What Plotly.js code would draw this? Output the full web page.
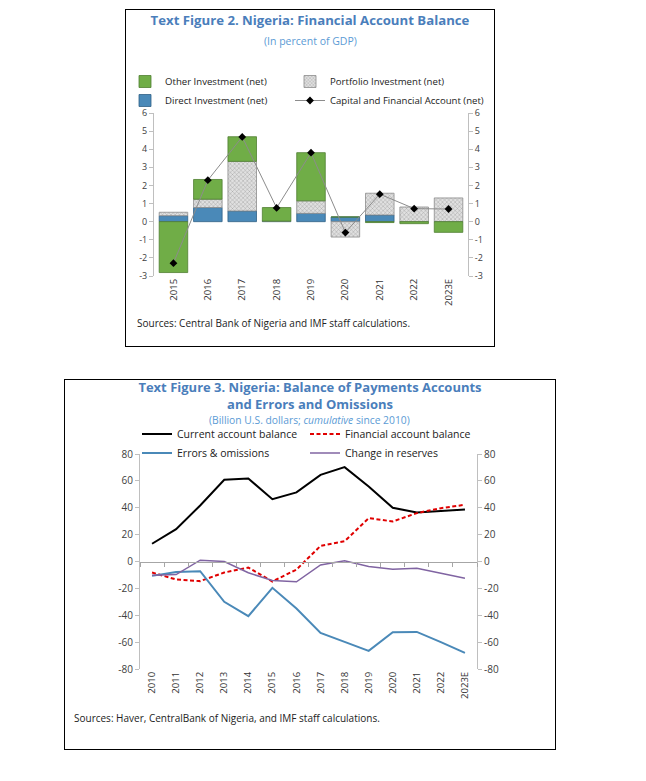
<!DOCTYPE html>
<html><head><meta charset="utf-8">
<script src="https://cdn.plot.ly/plotly-3.0.1.min.js"></script>
<style>
body{margin:0;background:#fff;width:646px;height:781px;position:relative;overflow:hidden}
#fig2{position:absolute;left:125px;top:9px;width:370px;height:338px;outline:1.6px solid #000;outline-offset:-1.6px}
#fig3{position:absolute;left:64px;top:379px;width:492px;height:371px;outline:1.6px solid #000;outline-offset:-1.6px}
</style></head><body>
<div id="fig2"></div><div id="fig3"></div>
<script>
// ---------- Figure 2 data (percent of GDP) ----------
const years2 = ['2015','2016','2017','2018','2019','2020','2021','2022','2023E'];
const directInv    = [0.33, 0.78, 0.59, 0.03, 0.46, 0.26, 0.37, 0.00, 0.00];
const portfolioInv = [0.19, 0.46, 2.74, 0.00, 0.69, -0.85, 1.20, 0.81, 1.31];
const otherInv     = [-2.81, 1.09, 1.36, 0.75, 2.66, 0.00, -0.05, -0.11, -0.59];
const capFinAcct   = [-2.29, 2.29, 4.68, 0.76, 3.81, -0.60, 1.52, 0.72, 0.70];
const yTicks2 = [-3,-2,-1,0,1,2,3,4,5,6];

// ---------- Figure 3 data (billion USD, cumulative since 2010) ----------
const years3 = ['2010','2011','2012','2013','2014','2015','2016','2017','2018','2019','2020','2021','2022','2023E'];
const currentAcct     = [13.2, 24.1, 41.7, 60.8, 61.8, 46.4, 51.4, 64.5, 70.2, 55.8, 40.0, 36.5, 37.5, 38.7];
const financialAcct   = [-8.2, -13.4, -14.6, -8.2, -4.5, -14.9, -6.0, 11.6, 15.1, 32.3, 29.8, 36.0, 39.7, 42.2];
const errorsOmissions = [-10.7, -7.9, -7.2, -30.0, -40.7, -19.6, -35.0, -53.1, -59.8, -66.5, -52.6, -52.4, -60.0, -68.0];
const changeReserves  = [-10.2, -9.7, 1.0, 0.0, -8.4, -14.1, -15.1, -2.6, 0.6, -3.7, -5.8, -5.1, -8.7, -12.4];
const yTicks3 = [-80,-60,-40,-20,0,20,40,60,80];

const FONT = 'Open Sans, Noto Sans, sans-serif';
const TITLE_BLUE = '#4a7ebb';
const SUB_BLUE = '#5b9bd5';
const AXIS_GRAY = '#bfbfbf';

// ---------- Figure 2 ----------
const fig2Traces = [
  {type:'bar', name:'Direct Investment (net)', x:years2, y:directInv, legend:'legend', legendrank:2,
   marker:{color:'#4a89b8', line:{color:'#2f5f85', width:0.8}}, hoverinfo:'skip'},
  {type:'bar', name:'Portfolio Investment (net)', x:years2, y:portfolioInv, legend:'legend2', legendrank:1,
   marker:{color:'#d9d9d9', line:{color:'#8c8c8c', width:0.8},
           pattern:{shape:'x', size:3, solidity:0.25, fgcolor:'#9a9a9a', bgcolor:'#e0e0e0'}}, hoverinfo:'skip'},
  {type:'bar', name:'Other Investment (net)', x:years2, y:otherInv, legend:'legend', legendrank:1,
   marker:{color:'#70ad47', line:{color:'#4f7f31', width:0.8}}, hoverinfo:'skip'},
  {type:'scatter', mode:'lines+markers', name:'Capital and Financial Account (net)', x:years2, y:capFinAcct,
   legend:'legend2', legendrank:2,
   line:{color:'#8c8c8c', width:1}, marker:{symbol:'diamond', size:6, color:'#000'}, hoverinfo:'skip'},
  {type:'scatter', mode:'none', x:years2, y:capFinAcct, yaxis:'y2', showlegend:false, hoverinfo:'skip'}
];
const yAx2 = {range:[-3,6], tickvals:yTicks2, ticktext:yTicks2.map(String), showgrid:false, zeroline:false, showline:true,
  linecolor:AXIS_GRAY, linewidth:1, ticks:'outside', ticklen:4, tickcolor:AXIS_GRAY,
  tickfont:{size:9, color:'#404040'}, fixedrange:true};
const legFont2 = {size:9.6, color:'#222'};
const fig2Layout = {
  width:370, height:338,
  margin:{l:29, r:27, t:104, b:71, pad:0, autoexpand:false},
  paper_bgcolor:'rgba(0,0,0,0)', plot_bgcolor:'rgba(0,0,0,0)',
  font:{family:FONT, size:9, color:'#404040'},
  title:{text:'Text Figure 2. Nigeria: Financial Account Balance', font:{size:13.2, color:TITLE_BLUE, weight:'bold'},
         x:0.5, xref:'container', xanchor:'center', y:1-11/338, yref:'container', yanchor:'middle'},
  barmode:'relative', bargap:0.17,
  xaxis:{type:'category', showline:false, ticks:'', tickangle:-90, showgrid:false, zeroline:false,
         tickfont:{size:9.5, color:'#333'}, fixedrange:true},
  yaxis:yAx2,
  yaxis2:Object.assign({}, yAx2, {overlaying:'y', side:'right'}),
  legend:{orientation:'v', xref:'container', yref:'container', x:0, y:1-58/338, xanchor:'left', yanchor:'top',
          font:legFont2, bgcolor:'rgba(0,0,0,0)', traceorder:'normal'},
  legend2:{orientation:'v', xref:'container', yref:'container', x:165/370, y:1-58/338, xanchor:'left', yanchor:'top',
          font:legFont2, bgcolor:'rgba(0,0,0,0)', traceorder:'normal'},
  annotations:[
    {text:'(In percent of GDP)', xref:'paper', yref:'paper', x:0.497, y:(267-33)/162.5, xanchor:'center', yanchor:'middle',
     showarrow:false, font:{size:10.5, color:SUB_BLUE}},
    {text:'Sources: Central Bank of Nigeria and IMF staff calculations.', xref:'paper', yref:'paper',
     x:(10-29)/314, y:(267-314)/162.5, xanchor:'left', yanchor:'middle', showarrow:false, font:{size:10, color:'#222'}}
  ]
};
Plotly.newPlot('fig2', fig2Traces, fig2Layout, {staticPlot:true});

// ---------- Figure 3 ----------
const fig3Traces = [
  {type:'scatter', mode:'lines', name:'Current account balance', x:years3, y:currentAcct,
   line:{color:'#000', width:2}, hoverinfo:'skip'},
  {type:'scatter', mode:'lines', name:'Financial account balance', x:years3, y:financialAcct,
   line:{color:'#e00000', width:2, dash:'4px,2.5px'}, hoverinfo:'skip'},
  {type:'scatter', mode:'lines', name:'Errors & omissions', x:years3, y:errorsOmissions,
   line:{color:'#4a89b8', width:2}, hoverinfo:'skip'},
  {type:'scatter', mode:'lines', name:'Change in reserves', x:years3, y:changeReserves,
   line:{color:'#8064a2', width:1.5}, hoverinfo:'skip'},
  {type:'scatter', mode:'none', x:years3.map((_, i) => i), y:changeReserves, xaxis:'x2', yaxis:'y2', showlegend:false, hoverinfo:'skip'}
];
const yAx3 = {range:[-80,80], tickvals:yTicks3, ticktext:yTicks3.map(String), showgrid:false, zeroline:false, showline:true,
  linecolor:AXIS_GRAY, linewidth:1, ticks:'outside', ticklen:4, tickcolor:AXIS_GRAY,
  tickfont:{size:10, color:'#404040'}, fixedrange:true};
const fig3Layout = {
  width:492, height:371,
  margin:{l:76, r:79, t:75, b:81, pad:0, autoexpand:false},
  paper_bgcolor:'rgba(0,0,0,0)', plot_bgcolor:'rgba(0,0,0,0)',
  font:{family:FONT, size:10, color:'#404040'},
  title:{text:'Text Figure 3. Nigeria: Balance of Payments Accounts<br>and Errors and Omissions',
         font:{size:13, color:TITLE_BLUE, weight:'bold'},
         x:0.5, xref:'container', xanchor:'center', y:1-13/371, yref:'container', yanchor:'middle'},
  xaxis:{type:'category', range:[-0.5, 13.5], showline:false, ticks:'', tickangle:-90, showgrid:false, zeroline:false,
         tickfont:{size:9.5, color:'#333'}, fixedrange:true},
  xaxis2:{overlaying:'x', anchor:'free', position:0.5, side:'bottom', range:[-0.5, 13.5],
          tickvals:years3.map((_, i) => i - 0.5).concat([years3.length - 0.5]),
          showticklabels:false, showline:true, linecolor:'#a6a6a6', linewidth:1, ticks:'outside', ticklen:4,
          tickcolor:'#a6a6a6', showgrid:false, zeroline:false, fixedrange:true},
  yaxis:yAx3,
  yaxis2:Object.assign({}, yAx3, {overlaying:'y', side:'right'}),
  legend:{orientation:'h', xref:'container', yref:'container', x:73/492, y:1-40.5/371, xanchor:'left', yanchor:'top',
          entrywidth:123, font:{size:10.5, color:'#222'}, bgcolor:'rgba(0,0,0,0)', traceorder:'normal'},
  annotations:[
    {text:'(Billion U.S. dollars; <i>cumulative</i> since 2010)', xref:'paper', yref:'paper', x:0.503, y:(290-41)/215,
     xanchor:'center', yanchor:'middle', showarrow:false, font:{size:10.3, color:SUB_BLUE}},
    {text:'Sources: Haver, CentralBank of Nigeria, and IMF staff calculations.', xref:'paper', yref:'paper',
     x:(8-76)/337, y:(290-339)/215, xanchor:'left', yanchor:'middle', showarrow:false, font:{size:10, color:'#222'}}
  ]
};
Plotly.newPlot('fig3', fig3Traces, fig3Layout, {staticPlot:true});
</script>
</body></html>
